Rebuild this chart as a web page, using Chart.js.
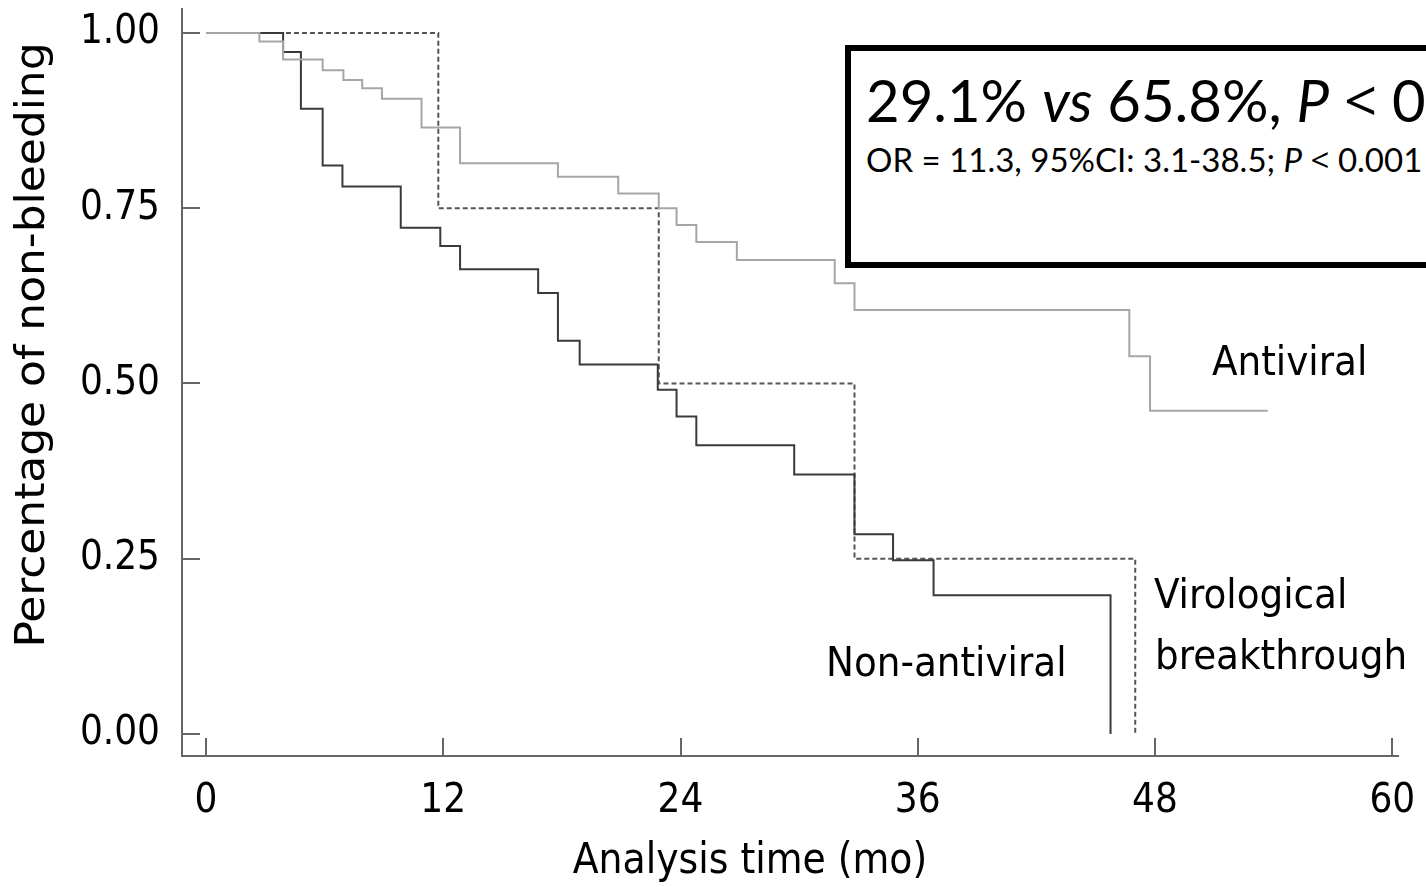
<!DOCTYPE html>
<html>
<head>
<meta charset="utf-8">
<script src="https://cdn.jsdelivr.net/npm/chart.js@4.4.1/dist/chart.umd.min.js"></script>
<style>
  html, body { margin: 0; padding: 0; background: #fff; overflow: hidden; }
  #wrap { position: relative; width: 1426px; height: 887px; overflow: hidden; }
  #c { position: absolute; left: 0; top: 0; }
  #box { position: absolute; left: 845px; top: 45px; width: 700px; height: 223px; border: 6px solid #000; box-sizing: border-box; background: #fff; }
  .bt { position: absolute; white-space: nowrap; font-family: Lato, "Open Sans", sans-serif; color: #000; line-height: 1; }
  #big { left: 15px; top: 20px; font-size: 58px; }
  #small { left: 15px; top: 92px; font-size: 33px; }
  .lt { font-family: "Open Sans", sans-serif; }
  i { font-style: italic; }
</style>
</head>
<body>
<div id="wrap">
  <canvas id="c" width="1426" height="887"></canvas>
  <div id="box">
    <div class="bt" id="big">29.1% <i>vs</i> 65.8%, <i>P</i> <span class="lt">&lt;</span> 0.001</div>
    <div class="bt" id="small">OR = 11.3, 95%CI: 3.1-38.5; <i>P</i> <span class="lt">&lt;</span> 0.001</div>
  </div>
</div>
<script>
// ---- Data ----
const antiviralTimes = [0, 2.7, 3.9, 5.9, 6.95, 7.9, 8.9, 10.9, 12.85, 17.8, 20.85, 22.9, 23.8, 24.8, 26.85, 31.8, 32.8, 46.7, 47.75, 53.7];
const antiviralSurv  = [1.000, 0.988, 0.962, 0.947, 0.933, 0.921, 0.906, 0.865, 0.814, 0.795, 0.771, 0.750, 0.726, 0.702, 0.676, 0.643, 0.605, 0.539, 0.461, 0.461];

const nonAntiviralTimes = [0, 3.9, 4.8, 5.9, 6.9, 9.85, 11.85, 12.85, 16.8, 17.8, 18.9, 22.85, 23.8, 24.8, 29.75, 32.8, 34.75, 36.8, 45.75];
const nonAntiviralSurv  = [1.000, 0.973, 0.892, 0.811, 0.781, 0.722, 0.696, 0.663, 0.629, 0.561, 0.527, 0.491, 0.453, 0.412, 0.370, 0.285, 0.248, 0.198, 0.000];

const virologicalTimes = [0, 11.75, 22.9, 32.8, 47.0];
const virologicalSurv  = [1.00, 0.75, 0.50, 0.25, 0.00];

const xTicks = [0, 12, 24, 36, 48, 60];
const yTicks = [0.00, 0.25, 0.50, 0.75, 1.00];

const xTitle = 'Analysis time (mo)';
const yTitle = 'Percentage of non-bleeding';
const seriesLabels = ['Antiviral', 'Non-antiviral', 'Virological', 'breakthrough'];

function pts(t, s) { return t.map((x, i) => ({ x: x, y: s[i] })); }

const FONT = '"DejaVu Sans Condensed", "DejaVu Sans", sans-serif';

const decorPlugin = {
  id: 'decor',
  afterDraw(chart) {
    const ctx = chart.ctx;
    const xs = chart.scales.x, ys = chart.scales.y;
    const a = chart.chartArea;
    ctx.save();
    // inward tick marks
    ctx.strokeStyle = '#666';
    ctx.lineWidth = 2;
    ctx.beginPath();
    yTicks.forEach(v => {
      const py = Math.round(ys.getPixelForValue(v));
      ctx.moveTo(a.left, py); ctx.lineTo(a.left + 18, py);
    });
    xTicks.forEach(v => {
      const px = Math.round(xs.getPixelForValue(v));
      ctx.moveTo(px, a.bottom); ctx.lineTo(px, a.bottom - 18);
    });
    ctx.stroke();

    ctx.fillStyle = '#000';
    // x title
    ctx.font = '42px ' + FONT;
    ctx.textAlign = 'center';
    ctx.textBaseline = 'alphabetic';
    ctx.fillText(xTitle, 750, 873);
    // y title (stretched along its length like the reference)
    ctx.save();
    ctx.font = '40px ' + FONT;
    ctx.translate(44, 345);
    ctx.rotate(-Math.PI / 2);
    ctx.scale(1.22, 1);
    ctx.textAlign = 'center';
    ctx.fillText(yTitle, 0, 0);
    ctx.restore();
    // curve labels
    ctx.font = '41.5px ' + FONT;
    ctx.textAlign = 'left';
    ctx.fillText(seriesLabels[0], 1212, 375);
    ctx.fillText(seriesLabels[1], 826, 676);
    ctx.fillText(seriesLabels[2], 1154, 608);
    ctx.fillText(seriesLabels[3], 1155, 669);
    ctx.restore();
  }
};

function zeroPad(s) { s.paddingTop = 0; s.paddingBottom = 0; s.paddingLeft = 0; s.paddingRight = 0; }

new Chart(document.getElementById('c'), {
  type: 'line',
  data: {
    datasets: [
      { label: 'Antiviral', data: pts(antiviralTimes, antiviralSurv), borderColor: '#a6a6a6', borderWidth: 2, stepped: 'before', pointRadius: 0, fill: false },
      { label: 'Non-antiviral', data: pts(nonAntiviralTimes, nonAntiviralSurv), borderColor: '#3a3a3a', borderWidth: 2, stepped: 'before', pointRadius: 0, fill: false },
      { label: 'Virological breakthrough', data: pts(virologicalTimes, virologicalSurv), borderColor: '#555', borderWidth: 2, borderDash: [5, 3], stepped: 'before', pointRadius: 0, fill: false }
    ]
  },
  options: {
    responsive: false,
    animation: false,
    events: [],
    layout: { padding: { left: 0, top: 9, right: 28, bottom: 0 } },
    plugins: { legend: { display: false }, tooltip: { enabled: false } },
    scales: {
      x: {
        type: 'linear',
        min: -1.214, max: 60.29,
        afterBuildTicks: s => { s.ticks = xTicks.map(v => ({ value: v })); },
        afterFit: s => { s.height = 131; zeroPad(s); },
        grid: { display: false, drawTicks: false },
        border: { display: true, color: '#666', width: 2 },
        ticks: { font: { family: FONT, size: 40 }, color: '#000', padding: 22, maxRotation: 0, autoSkip: false, callback: v => String(v) }
      },
      y: {
        type: 'linear',
        min: -0.0314, max: 1.0342,
        afterBuildTicks: s => { s.ticks = yTicks.map(v => ({ value: v })); },
        afterFit: s => { s.width = 182; zeroPad(s); },
        grid: { display: false, drawTicks: false },
        border: { display: true, color: '#666', width: 2 },
        ticks: { font: { family: FONT, size: 40 }, color: '#000', padding: 22, autoSkip: false, callback: v => Number(v).toFixed(2) }
      }
    }
  },
  plugins: [decorPlugin]
});
</script>
</body>
</html>
